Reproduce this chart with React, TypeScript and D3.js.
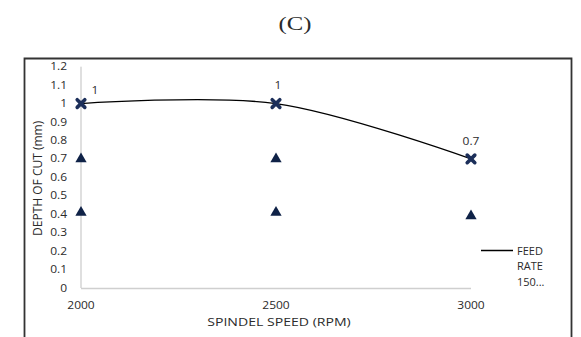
import React from "react";
import * as d3 from "d3";

const speeds = [2000, 2500, 3000];
const lineValues = [1, 1, 0.7];
const lineLabels = ["1", "1", "0.7"];
const triUpper = [
  { x: 2000, y: 0.7 },
  { x: 2500, y: 0.7 },
];
const triLower = [
  { x: 2000, y: 0.41 },
  { x: 2500, y: 0.41 },
  { x: 3000, y: 0.39 },
];
const yTicks = [0, 0.1, 0.2, 0.3, 0.4, 0.5, 0.6, 0.7, 0.8, 0.9, 1, 1.1, 1.2];
const legendLines = ["FEED", "RATE", "150..."];

const W = 581;
const H = 337;
const x = d3.scaleLinear().domain([2000, 3000]).range([81, 471]);
const y = d3.scaleLinear().domain([0, 1.2]).range([288, 66.7]);
const font = "'Open Sans', 'Liberation Sans', sans-serif";
const navy = "#1c2f5a";
const textFill = "#2b2b2b";

function T({
  x: tx,
  y: ty,
  sx = 1.2,
  size = 10,
  anchor = "middle",
  family = font,
  children,
}: {
  x: number;
  y: number;
  sx?: number;
  size?: number;
  anchor?: string;
  family?: string;
  children: React.ReactNode;
}) {
  return (
    <text
      transform={`translate(${tx},${ty}) scale(${sx},1)`}
      textAnchor={anchor as any}
      dy="0.35em"
      fontFamily={family}
      fontSize={size}
      fill={textFill}
    >
      {children}
    </text>
  );
}

function Cross({ cx, cy }: { cx: number; cy: number }) {
  const s = 3.8;
  return (
    <g stroke={navy} strokeWidth={3.6} strokeLinecap="round">
      <line x1={cx - s} y1={cy - s} x2={cx + s} y2={cy + s} />
      <line x1={cx - s} y1={cy + s} x2={cx + s} y2={cy - s} />
    </g>
  );
}

export default function App() {
  const pts: [number, number][] = speeds.map((s, i) => [x(s), y(lineValues[i])]);
  const path = d3.line().curve(d3.curveCatmullRom.alpha(0.5))(pts) || "";
  const tri = d3.symbol().type(d3.symbolTriangle).size(55);
  const labelOffsets = [[14, -13], [2, -18], [0, -17]];
  return (
    <svg width={W} height={H} style={{ position: "absolute", left: 0, top: 0 }}>
      <rect width={W} height={H} fill="#fff" />
      <T x={295} y={23} size={19} sx={1.3} family="'Liberation Serif', 'Times New Roman', serif">
        (C)
      </T>
      <path d={`M24.5,${H} V58.5 H571.5 V${H}`} fill="none" stroke="#333" strokeWidth={1.8} />
      <line x1={81} x2={81} y1={y(1.2)} y2={y(0)} stroke="#bfbfbf" strokeWidth={1} />
      <line x1={81} x2={471} y1={y(0) + 0.5} y2={y(0) + 0.5} stroke="#cfcfcf" strokeWidth={1.5} />
      {yTicks.map((t) => (
        <T key={t} x={67} y={y(t)} anchor="end">
          {d3.format("~g")(t)}
        </T>
      ))}
      {speeds.map((s) => (
        <T key={s} x={x(s)} y={305}>
          {s}
        </T>
      ))}
      <text
        transform={`translate(38,${y(0.6) + 1}) rotate(-90)`}
        textAnchor="middle"
        dy="0.35em"
        fontFamily={font}
        fontSize={12}
        fill={textFill}
      >
        DEPTH OF CUT (mm)
      </text>
      <T x={279} y={322} size={11} sx={1.28}>
        SPINDEL SPEED (RPM)
      </T>
      <path d={path} fill="none" stroke="#000" strokeWidth={1.3} />
      {pts.map(([px, py], i) => (
        <Cross key={i} cx={px} cy={py} />
      ))}
      {pts.map(([px, py], i) => (
        <T key={"l" + i} x={px + labelOffsets[i][0]} y={py + labelOffsets[i][1]}>
          {lineLabels[i]}
        </T>
      ))}
      {[...triUpper, ...triLower].map((d, i) => (
        <path key={"t" + i} d={tri() || ""} transform={`translate(${x(d.x)},${y(d.y)})`} fill="#0f2247" />
      ))}
      <line x1={481} x2={513} y1={250.5} y2={250.5} stroke="#000" strokeWidth={1.5} />
      {legendLines.map((t, i) => (
        <T key={t} x={517} y={251 + i * 15.7} anchor="start" sx={1.1}>
          {t}
        </T>
      ))}
    </svg>
  );
}
